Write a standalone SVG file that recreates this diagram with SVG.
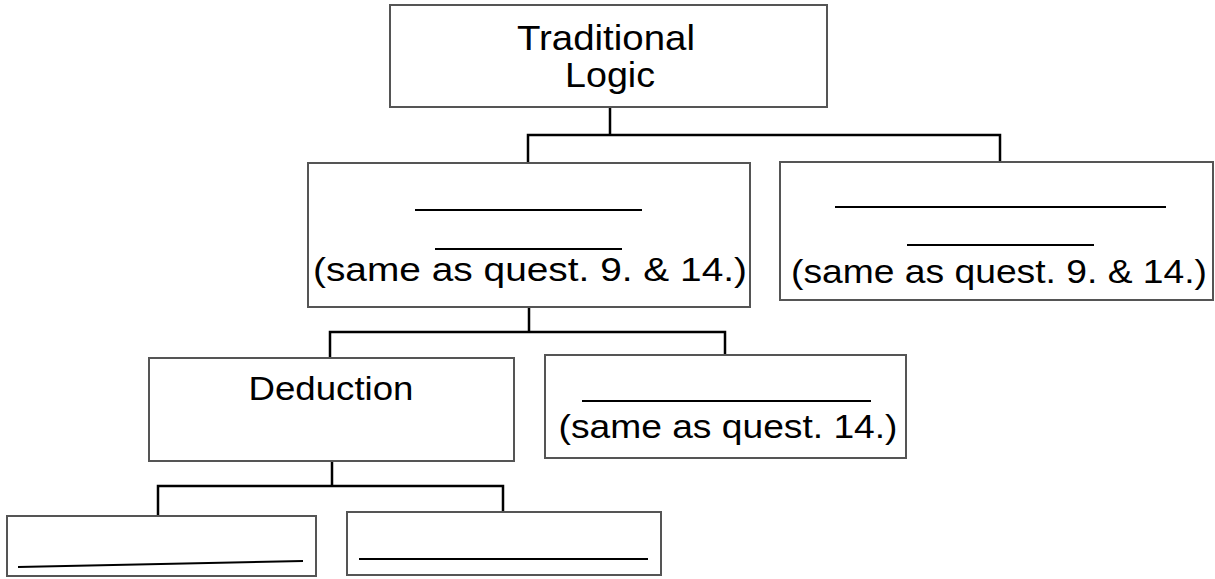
<svg xmlns="http://www.w3.org/2000/svg" width="1215" height="579" viewBox="0 0 1215 579">
  <style>
    .box { fill: #fff; stroke: #555; stroke-width: 2; }
    .blank { stroke: #000; stroke-width: 2; fill: none; }
    .wire { stroke: #000; stroke-width: 2.5; fill: none; stroke-linecap: square; }
    text { font-family: "Liberation Sans", Arial, sans-serif; fill: #000; text-anchor: middle; }
    .big { font-size: 35px; }
    .mid { font-size: 33px; }
  </style>
  <rect width="1215" height="579" fill="#fff"/>

  <!-- connectors -->
  <g id="connectors">
    <path class="wire" d="M610,107 V135 M528,135 H1000 M528,135 V163 M1000,135 V162"/>
    <path class="wire" d="M529,307 V332 M330,332 H725 M330,332 V358 M725,332 V355"/>
    <path class="wire" d="M332,461 V486 M158,486 H503 M158,486 V516 M503,486 V512"/>
  </g>

  <g id="traditional-logic">
    <rect class="box" x="390" y="5" width="437" height="102"/>
    <text class="big" x="606" y="50" textLength="178" lengthAdjust="spacingAndGlyphs">Traditional</text>
    <text class="big" x="610" y="87" textLength="90" lengthAdjust="spacingAndGlyphs">Logic</text>
  </g>

  <g id="branch-left">
    <rect class="box" x="308" y="163" width="442" height="144"/>
    <line class="blank" x1="415" y1="210" x2="642" y2="210"/>
    <line class="blank" x1="435" y1="249" x2="622" y2="249"/>
    <text class="mid" x="530" y="281" textLength="434" lengthAdjust="spacingAndGlyphs">(same as quest. 9. &amp; 14.)</text>
  </g>

  <g id="branch-right">
    <rect class="box" x="780" y="162" width="433" height="138"/>
    <line class="blank" x1="835" y1="207" x2="1166" y2="207"/>
    <line class="blank" x1="907" y1="245" x2="1094" y2="245"/>
    <text class="mid" x="999" y="283" textLength="416" lengthAdjust="spacingAndGlyphs">(same as quest. 9. &amp; 14.)</text>
  </g>

  <g id="deduction">
    <rect class="box" x="149" y="358" width="365" height="103"/>
    <text class="mid" x="331" y="400" textLength="165" lengthAdjust="spacingAndGlyphs">Deduction</text>
  </g>

  <g id="sibling">
    <rect class="box" x="545" y="355" width="361" height="103"/>
    <line class="blank" x1="582" y1="401" x2="871" y2="401"/>
    <text class="mid" x="728" y="438" textLength="339" lengthAdjust="spacingAndGlyphs">(same as quest. 14.)</text>
  </g>

  <g id="leaf-left">
    <rect class="box" x="7" y="516" width="309" height="60"/>
    <line class="blank" x1="18" y1="567" x2="303" y2="561"/>
  </g>

  <g id="leaf-right">
    <rect class="box" x="347" y="512" width="314" height="63"/>
    <line class="blank" x1="359" y1="559" x2="648" y2="559"/>
  </g>
</svg>
